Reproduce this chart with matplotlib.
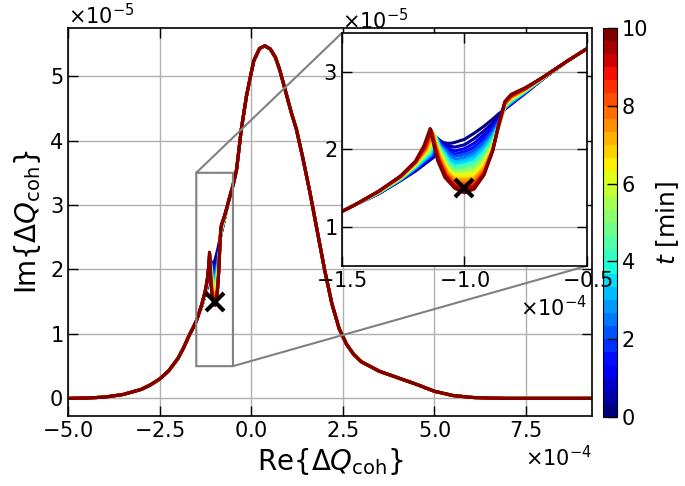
import numpy as np
import matplotlib
matplotlib.use('Agg')
import matplotlib.pyplot as plt
from matplotlib import cm, colors

plt.rcParams['font.family'] = ['DejaVu Sans']
plt.rcParams['font.size'] = 15

# Re{dQ} in units of 1e-4, Im{dQ} in units of 1e-5
left_re = [-5.0, -4.5, -4.0, -3.5, -3.0, -2.75, -2.5, -2.25, -2.0, -1.85, -1.7, -1.6, -1.5]
left_im = [0.0, 0.005, 0.02, 0.06, 0.14, 0.21, 0.30, 0.43, 0.62, 0.78, 0.97, 1.08, 1.20]

right_re = [-0.5, -0.40, -0.27, -0.13, -0.02, 0.07, 0.23, 0.37, 0.52, 0.66, 0.77, 0.91,
            1.09, 1.23, 1.4, 1.6, 1.8, 2.0, 2.2, 2.4, 2.6, 2.8, 3.0, 3.5, 4.0, 4.5, 5.0,
            5.5, 6.0, 6.5, 7.0, 8.0, 9.3]
right_im = [3.30, 3.55, 4.18, 4.69, 5.00, 5.24, 5.43, 5.47, 5.42, 5.29, 5.11, 4.82,
            4.44, 4.18, 3.75, 3.20, 2.60, 2.00, 1.47, 1.08, 0.84, 0.68, 0.57, 0.42, 0.32,
            0.22, 0.11, 0.045, 0.015, 0.005, 0.0, 0.0, 0.0]

# time snapshots [min] around the dip
snap_t = [0, 0.5, 1, 1.5, 2, 2.5, 3, 3.5, 4, 4.5, 5, 5.5, 6, 6.5, 7, 7.5, 8, 8.5, 9, 9.5, 10]

# one entry per point along the dip: a single Re value if fixed, else one per snapshot
dip_re = [
    -1.45, -1.35, -1.26, -1.20,
    [-1.125, -1.127, -1.129, -1.131, -1.133, -1.135, -1.137, -1.139, -1.141, -1.143, -1.145,
     -1.147, -1.149, -1.151, -1.153, -1.155, -1.157, -1.159, -1.161, -1.163, -1.165],
    [-1.105, -1.107, -1.109, -1.110, -1.112, -1.114, -1.116, -1.117, -1.119, -1.121, -1.122,
     -1.124, -1.126, -1.128, -1.129, -1.131, -1.133, -1.135, -1.136, -1.138, -1.140],
    [-1.088, -1.090, -1.092, -1.094, -1.096, -1.098, -1.100, -1.102, -1.104, -1.106, -1.108,
     -1.110, -1.112, -1.114, -1.116, -1.118, -1.120, -1.122, -1.124, -1.126, -1.128],
    [-1.070, -1.072, -1.074, -1.076, -1.078, -1.080, -1.082, -1.084, -1.086, -1.088, -1.090,
     -1.092, -1.094, -1.096, -1.098, -1.100, -1.102, -1.104, -1.106, -1.108, -1.110],
    [-1.055, -1.056, -1.057, -1.058, -1.059, -1.060, -1.061, -1.062, -1.063, -1.064, -1.065,
     -1.066, -1.067, -1.068, -1.070, -1.071, -1.073, -1.075, -1.076, -1.078, -1.080],
    -1.04, -1.0, -0.96, -0.92, -0.885, -0.86, -0.835, -0.81, -0.75, -0.68, -0.58,
]
dip_im = [
    1.28,
    [1.43, 1.43, 1.43, 1.44, 1.44, 1.44, 1.44, 1.44, 1.44, 1.45, 1.45, 1.45, 1.45, 1.45, 1.45, 1.46, 1.46, 1.46, 1.46, 1.46, 1.46],
    [1.60, 1.60, 1.61, 1.61, 1.61, 1.61, 1.62, 1.62, 1.62, 1.63, 1.63, 1.63, 1.64, 1.64, 1.64, 1.65, 1.65, 1.65, 1.65, 1.66, 1.66],
    [1.72, 1.73, 1.74, 1.74, 1.75, 1.76, 1.77, 1.77, 1.78, 1.79, 1.79, 1.80, 1.80, 1.81, 1.82, 1.82, 1.83, 1.83, 1.84, 1.84, 1.85],
    [1.90, 1.91, 1.91, 1.92, 1.93, 1.94, 1.94, 1.95, 1.96, 1.97, 1.97, 1.98, 1.99, 2.00, 2.00, 2.01, 2.02, 2.03, 2.03, 2.04, 2.05],
    [2.13, 2.13, 2.14, 2.14, 2.15, 2.15, 2.16, 2.16, 2.17, 2.18, 2.18, 2.19, 2.20, 2.21, 2.21, 2.22, 2.23, 2.24, 2.25, 2.26, 2.27],
    [2.09, 2.08, 2.07, 2.06, 2.05, 2.05, 2.04, 2.04, 2.04, 2.04, 2.04, 2.05, 2.05, 2.05, 2.06, 2.07, 2.07, 2.08, 2.09, 2.09, 2.10],
    [2.08, 2.06, 2.04, 2.02, 2.00, 1.99, 1.97, 1.96, 1.95, 1.94, 1.93, 1.92, 1.91, 1.90, 1.90, 1.89, 1.88, 1.88, 1.87, 1.87, 1.86],
    [2.08, 2.04, 2.00, 1.97, 1.94, 1.91, 1.88, 1.86, 1.83, 1.81, 1.79, 1.77, 1.75, 1.73, 1.71, 1.70, 1.68, 1.67, 1.66, 1.65, 1.64],
    [2.09, 2.03, 1.98, 1.94, 1.91, 1.87, 1.84, 1.81, 1.78, 1.75, 1.72, 1.70, 1.67, 1.65, 1.62, 1.60, 1.57, 1.55, 1.53, 1.52, 1.50],
    [2.13, 2.06, 2.01, 1.97, 1.93, 1.89, 1.86, 1.83, 1.80, 1.77, 1.74, 1.71, 1.68, 1.65, 1.62, 1.59, 1.56, 1.53, 1.50, 1.47, 1.44],
    [2.21, 2.14, 2.08, 2.03, 1.99, 1.95, 1.91, 1.87, 1.84, 1.80, 1.77, 1.73, 1.70, 1.67, 1.63, 1.60, 1.57, 1.55, 1.53, 1.51, 1.49],
    [2.30, 2.24, 2.19, 2.14, 2.10, 2.06, 2.03, 1.99, 1.96, 1.92, 1.89, 1.86, 1.83, 1.80, 1.77, 1.75, 1.72, 1.70, 1.69, 1.68, 1.67],
    [2.39, 2.34, 2.30, 2.26, 2.23, 2.20, 2.17, 2.14, 2.12, 2.10, 2.08, 2.06, 2.04, 2.02, 2.01, 2.00, 1.99, 1.99, 1.98, 1.98, 1.98],
    [2.46, 2.43, 2.40, 2.38, 2.36, 2.34, 2.33, 2.32, 2.31, 2.30, 2.30, 2.30, 2.30, 2.30, 2.30, 2.30, 2.31, 2.31, 2.32, 2.32, 2.33],
    [2.52, 2.52, 2.52, 2.53, 2.53, 2.54, 2.54, 2.55, 2.55, 2.56, 2.56, 2.57, 2.57, 2.58, 2.58, 2.59, 2.59, 2.60, 2.61, 2.61, 2.62],
    [2.58, 2.59, 2.59, 2.60, 2.60, 2.61, 2.61, 2.62, 2.63, 2.63, 2.64, 2.65, 2.65, 2.66, 2.67, 2.67, 2.68, 2.69, 2.69, 2.70, 2.71],
    [2.73, 2.73, 2.74, 2.74, 2.74, 2.75, 2.75, 2.75, 2.76, 2.76, 2.76, 2.77, 2.77, 2.77, 2.78, 2.78, 2.78, 2.79, 2.79, 2.79, 2.80],
    [2.91, 2.91, 2.91, 2.91, 2.91, 2.91, 2.92, 2.92, 2.92, 2.92, 2.92, 2.92, 2.92, 2.92, 2.92, 2.93, 2.93, 2.93, 2.93, 2.93, 2.93],
    3.14,
]

mode_re, mode_im = -1.0, 1.5

cmap = plt.get_cmap('jet', 30)
norm = colors.Normalize(vmin=0, vmax=10)


def pick(col, k):
    return col[k] if isinstance(col, list) else col


def draw_curves(a):
    for k, t in enumerate(snap_t):
        re = np.array(left_re + [pick(c, k) for c in dip_re] + right_re) * 1e-4
        im = np.array(left_im + [pick(c, k) for c in dip_im] + right_im) * 1e-5
        a.plot(re, im, color=cmap(norm(t)), lw=2.2)
    a.plot(mode_re * 1e-4, mode_im * 1e-5, 'x', color='k', ms=13, mew=3)


def style(a):
    a.grid(True, color='#b0b0b0', lw=1)
    a.set_axisbelow(True)
    a.tick_params(direction='in', length=7, width=1, top=True, right=True)
    a.ticklabel_format(style='sci', scilimits=(0, 0), useMathText=True)
    for s in a.spines.values():
        s.set_linewidth(1.2)


fig = plt.figure(figsize=(6.85, 4.86), dpi=100)
ax = fig.add_axes([0.0993, 0.144, 0.7650, 0.798])
draw_curves(ax)
style(ax)
ax.set_xlim(-5e-4, 9.3e-4)
ax.set_xticks([-5e-4, -2.5e-4, 0, 2.5e-4, 5e-4, 7.5e-4])
ax.set_xlabel(r'Re$\{\Delta Q_\mathrm{coh}\}$', fontsize=20)
ax.set_ylabel(r'Im$\{\Delta Q_\mathrm{coh}\}$', fontsize=20)

cax = fig.add_axes([0.880, 0.142, 0.0204, 0.800])
sm = cm.ScalarMappable(norm=norm, cmap=cmap)
cb = fig.colorbar(sm, cax=cax)
cb.set_ticks([0, 2, 4, 6, 8, 10])
cb.set_label(r'$t$ [min]', fontsize=18)
cax.tick_params(direction='in', length=7, width=1)

axins = fig.add_axes([0.499, 0.453, 0.358, 0.479])
draw_curves(axins)
style(axins)
axins.set_xlim(-1.5e-4, -0.5e-4)
axins.set_ylim(0.5e-5, 3.5e-5)
axins.set_xticks([-1.5e-4, -1.0e-4, -0.5e-4])
axins.set_yticks([1e-5, 2e-5, 3e-5])

ax.indicate_inset_zoom(axins, edgecolor='gray', alpha=1, linewidth=1.5)

fig.savefig('out.png', dpi=100)
